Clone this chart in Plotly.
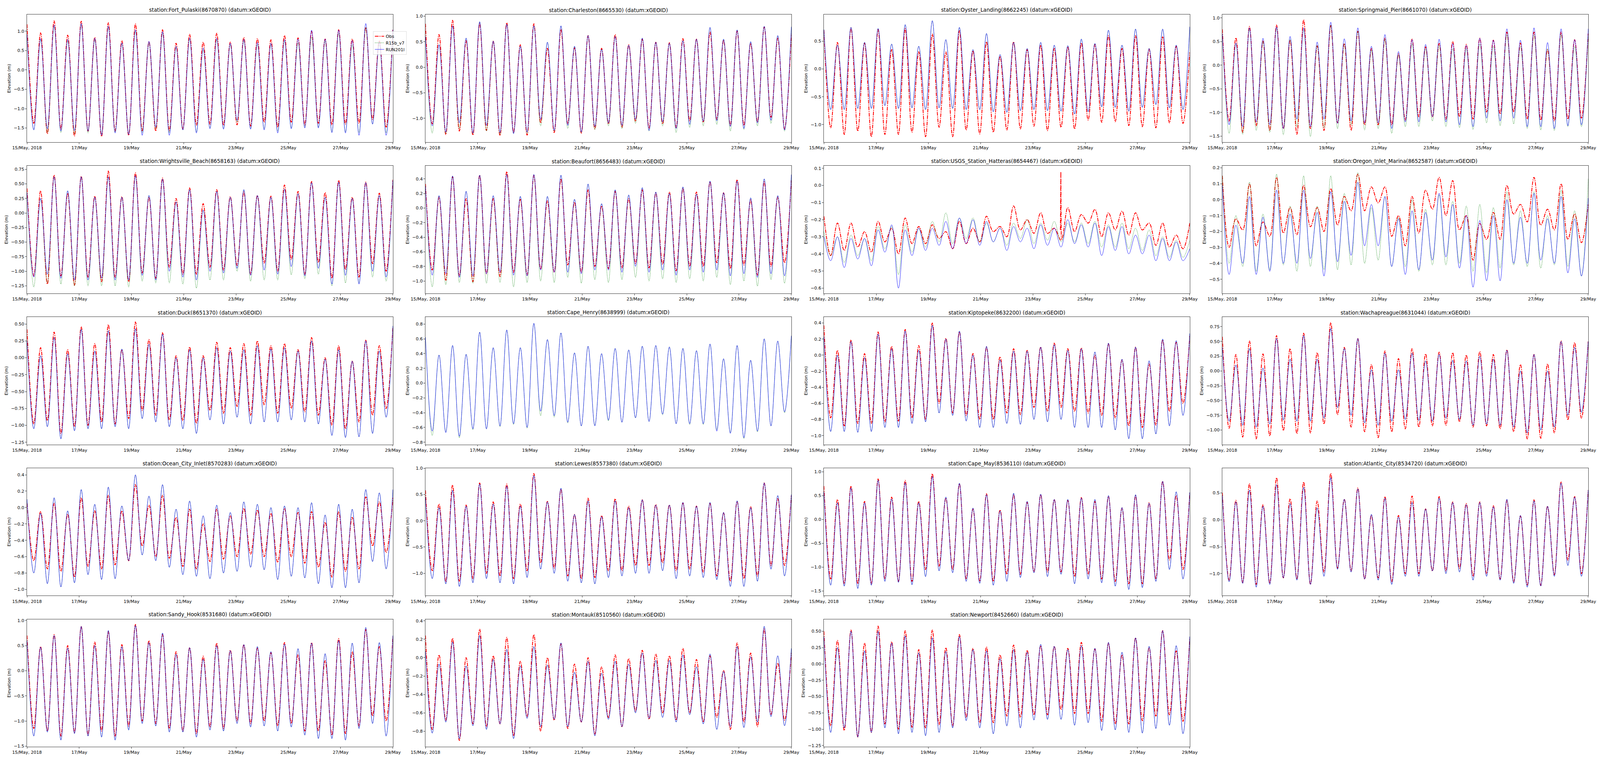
import pandas as pd
import plotly.graph_objects as go
from plotly.subplots import make_subplots

# time window and tick labels
START = "2018-05-15"
END = "2018-05-29"
N_EXTREMA = 55  # alternating high / low waters, first and last are highs

TICK_DATES = ["2018-05-15", "2018-05-17", "2018-05-19", "2018-05-21",
              "2018-05-23", "2018-05-25", "2018-05-27", "2018-05-29"]
TICK_LABELS = ["15/May, 2018", "17/May", "19/May", "21/May",
               "23/May", "25/May", "27/May", "29/May"]

# ---- high / low water values (m) ----
FORT_PULASKI_OBS_HI = [1.18, 0.96, 1.27, 0.90, 1.26, 0.84, 1.22, 0.76, 1.19, 0.73, 1.04, 0.69, 0.92, 0.72,
                       0.95, 0.72, 0.84, 0.81, 0.78, 0.89, 0.83, 1.00, 0.80, 1.04, 0.80, 1.10, 0.76, 1.04]
FORT_PULASKI_OBS_LO = [-1.38, -1.65, -1.53, -1.71, -1.58, -1.72, -1.58, -1.69, -1.57, -1.58, -1.57, -1.53, -1.43, -1.40,
                       -1.43, -1.42, -1.45, -1.35, -1.48, -1.35, -1.42, -1.38, -1.42, -1.40, -1.38, -1.28, -1.48]
FORT_PULASKI_R15_HI = [0.90, 0.78, 1.12, 0.75, 1.17, 0.78, 1.10, 0.68, 1.00, 0.70, 0.95, 0.58, 0.80, 0.52,
                       0.78, 0.65, 0.75, 0.66, 0.66, 0.75, 0.70, 0.85, 0.75, 0.95, 0.65, 1.10, 0.65, 1.00]
FORT_PULASKI_R15_LO = [-1.55, -1.62, -1.62, -1.65, -1.63, -1.66, -1.60, -1.65, -1.62, -1.52, -1.62, -1.55, -1.60, -1.50,
                       -1.52, -1.35, -1.52, -1.52, -1.58, -1.50, -1.48, -1.48, -1.60, -1.60, -1.62, -1.40, -1.62]
FORT_PULASKI_RUN_HI = [0.92, 0.81, 1.16, 0.79, 1.20, 0.82, 1.13, 0.70, 1.04, 0.74, 0.99, 0.61, 0.83, 0.57,
                       0.82, 0.69, 0.79, 0.71, 0.69, 0.79, 0.80, 1.03, 0.80, 1.03, 0.76, 1.20, 0.72, 1.04]
FORT_PULASKI_RUN_LO = [-1.55, -1.52, -1.58, -1.57, -1.58, -1.69, -1.63, -1.67, -1.69, -1.48, -1.69, -1.55, -1.63, -1.52,
                       -1.53, -1.31, -1.53, -1.55, -1.63, -1.52, -1.50, -1.50, -1.62, -1.63, -1.69, -1.40, -1.69]

CHARLESTON_OBS_HI = [0.85, 0.64, 0.92, 0.52, 0.86, 0.51, 0.87, 0.44, 0.85, 0.37, 0.74, 0.38, 0.62, 0.37,
                     0.64, 0.44, 0.55, 0.49, 0.48, 0.56, 0.55, 0.69, 0.53, 0.71, 0.47, 0.79, 0.57, 0.65]
CHARLESTON_OBS_LO = [-1.11, -1.32, -1.25, -1.33, -1.24, -1.34, -1.28, -1.33, -1.09, -1.28, -1.11, -1.29, -1.21, -1.11,
                     -1.18, -1.06, -1.20, -1.11, -1.18, -1.05, -1.07, -1.02, -1.14, -1.14, -1.07, -0.98, -1.21]
CHARLESTON_RUN_HI = [0.60, 0.44, 0.81, 0.57, 0.89, 0.51, 0.84, 0.41, 0.81, 0.49, 0.81, 0.41, 0.62, 0.35,
                     0.60, 0.43, 0.57, 0.49, 0.47, 0.52, 0.55, 0.78, 0.55, 0.73, 0.50, 0.80, 0.62, 0.79]
CHARLESTON_RUN_LO = [-1.15, -1.27, -1.09, -1.29, -1.14, -1.28, -1.30, -1.27, -1.02, -1.24, -1.14, -1.27, -1.16, -1.09,
                     -1.14, -1.02, -1.24, -1.07, -1.20, -1.12, -1.06, -1.05, -1.16, -1.20, -1.09, -1.04, -1.23]
CHARLESTON_R15_LO = [-1.29, -1.30, -1.20, -1.30, -1.25, -1.32, -1.30, -1.30, -1.15, -1.25, -1.20, -1.28, -1.22, -1.15,
                     -1.20, -1.10, -1.25, -1.15, -1.28, -1.18, -1.15, -1.12, -1.25, -1.22, -1.15, -1.10, -1.25]

OYSTER_OBS_HI = [0.70, 0.48, 0.74, 0.47, 0.71, 0.35, 0.73, 0.31, 0.63, 0.31, 0.69, 0.33, 0.49, 0.23,
                 0.49, 0.35, 0.43, 0.37, 0.40, 0.47, 0.44, 0.60, 0.37, 0.60, 0.36, 0.58, 0.41, 0.30]
OYSTER_OBS_LO = [-1.06, -1.18, -1.12, -1.22, -1.18, -1.18, -1.14, -1.22, -1.05, -1.22, -1.10, -1.17, -1.14, -1.10,
                 -1.08, -1.03, -1.11, -1.05, -1.08, -0.92, -0.96, -0.95, -1.02, -1.04, -1.06, -0.97, -0.98]
OYSTER_RUN_HI = [0.71, 0.43, 0.75, 0.48, 0.73, 0.45, 0.80, 0.41, 0.87, 0.53, 0.75, 0.35, 0.64, 0.26,
                 0.48, 0.37, 0.48, 0.43, 0.42, 0.54, 0.46, 0.70, 0.43, 0.72, 0.37, 0.72, 0.43, 0.76]
OYSTER_RUN_LO = [-0.73, -0.73, -0.71, -0.71, -0.66, -0.71, -0.70, -0.73, -0.70, -0.71, -0.73, -0.73, -0.77, -0.78,
                 -0.75, -0.73, -0.75, -0.76, -0.81, -0.77, -0.68, -0.69, -0.76, -0.69, -0.64, -0.70, -0.73]

SPRINGMAID_OBS_HI = [0.76, 0.58, 0.82, 0.51, 0.85, 0.53, 0.96, 0.41, 0.84, 0.46, 0.72, 0.35, 0.57, 0.24,
                     0.55, 0.39, 0.46, 0.50, 0.44, 0.57, 0.53, 0.70, 0.47, 0.70, 0.33, 0.70, 0.54, 0.67]
SPRINGMAID_OBS_LO = [-1.18, -1.42, -1.28, -1.38, -1.34, -1.46, -1.34, -1.38, -1.22, -1.38, -1.26, -1.26, -1.26, -1.16,
                     -1.09, -1.09, -1.14, -1.09, -1.14, -0.99, -1.03, -0.99, -1.14, -1.16, -1.18, -1.14, -1.12]
SPRINGMAID_R15_HI = [0.65, 0.45, 0.76, 0.50, 0.78, 0.55, 0.75, 0.42, 0.85, 0.45, 0.72, 0.32, 0.55, 0.22,
                     0.45, 0.35, 0.42, 0.35, 0.35, 0.45, 0.40, 0.65, 0.40, 0.65, 0.35, 0.65, 0.40, 0.62]
SPRINGMAID_R15_LO = [-1.44, -1.46, -1.38, -1.42, -1.47, -1.30, -1.51, -1.32, -1.34, -1.26, -1.37, -1.34, -1.44, -1.30,
                     -1.30, -1.18, -1.30, -1.32, -1.36, -1.22, -1.28, -1.24, -1.34, -1.37, -1.38, -1.30, -1.30]
SPRINGMAID_RUN_HI = [0.67, 0.47, 0.79, 0.57, 0.81, 0.61, 0.79, 0.49, 0.91, 0.56, 0.79, 0.40, 0.65, 0.29,
                     0.54, 0.44, 0.55, 0.46, 0.42, 0.57, 0.53, 0.77, 0.53, 0.79, 0.48, 0.77, 0.54, 0.77]
SPRINGMAID_RUN_LO = [-1.26, -1.30, -1.20, -1.26, -1.34, -1.14, -1.30, -1.14, -1.23, -1.18, -1.22, -1.22, -1.34, -1.20,
                     -1.20, -1.09, -1.20, -1.26, -1.30, -1.12, -1.18, -1.12, -1.30, -1.30, -1.34, -1.28, -1.26]

WRIGHTSVILLE_OBS_HI = [0.42, 0.38, 0.65, 0.34, 0.63, 0.29, 0.72, 0.28, 0.69, 0.27, 0.60, 0.25, 0.43, 0.16,
                       0.40, 0.28, 0.36, 0.30, 0.29, 0.48, 0.37, 0.54, 0.35, 0.56, 0.27, 0.53, 0.34, 0.57]
WRIGHTSVILLE_OBS_LO = [-1.08, -1.22, -1.08, -1.24, -1.10, -1.18, -1.10, -1.18, -1.03, -1.12, -0.93, -1.05, -1.05, -0.93,
                       -0.98, -0.90, -1.05, -0.86, -1.00, -0.80, -1.05, -0.85, -1.12, -0.97, -1.10, -0.87, -1.00]
WRIGHTSVILLE_RUN_HI = [0.35, 0.25, 0.62, 0.38, 0.62, 0.27, 0.62, 0.27, 0.64, 0.30, 0.58, 0.19, 0.40, 0.05,
                       0.37, 0.27, 0.40, 0.30, 0.27, 0.41, 0.33, 0.52, 0.27, 0.53, 0.25, 0.52, 0.30, 0.56]
WRIGHTSVILLE_RUN_LO = [-1.10, -1.05, -1.12, -1.15, -1.15, -1.12, -1.15, -1.15, -1.07, -1.15, -1.00, -1.10, -1.15, -1.00,
                       -1.03, -0.95, -1.07, -0.98, -1.05, -0.92, -1.08, -0.95, -1.22, -1.07, -1.22, -1.00, -1.10]
WRIGHTSVILLE_R15_LO = [-1.27, -1.20, -1.22, -1.25, -1.25, -1.25, -1.25, -1.27, -1.17, -1.20, -1.20, -1.22, -1.29, -1.15,
                       -1.15, -1.00, -1.17, -1.15, -1.15, -1.06, -1.13, -1.05, -1.25, -1.20, -1.20, -1.10, -1.17]

BEAUFORT_OBS_HI = [0.33, 0.15, 0.43, 0.13, 0.45, 0.13, 0.50, 0.12, 0.45, 0.10, 0.40, 0.08, 0.25, 0.03,
                   0.23, 0.13, 0.25, 0.21, 0.22, 0.27, 0.22, 0.36, 0.21, 0.39, 0.11, 0.36, 0.15, 0.38]
BEAUFORT_OBS_LO = [-0.85, -0.99, -0.93, -1.01, -0.90, -0.94, -0.88, -0.92, -0.84, -0.88, -0.78, -0.88, -0.80, -0.83,
                   -0.82, -0.76, -0.82, -0.77, -0.86, -0.80, -0.80, -0.75, -0.83, -0.78, -0.92, -0.80, -0.75]
BEAUFORT_RUN_HI = [0.30, 0.17, 0.44, 0.23, 0.45, 0.17, 0.46, 0.16, 0.46, 0.16, 0.45, 0.12, 0.33, 0.06,
                   0.25, 0.18, 0.28, 0.22, 0.20, 0.29, 0.19, 0.37, 0.21, 0.37, 0.14, 0.40, 0.17, 0.46]
BEAUFORT_RUN_LO = [-0.92, -0.90, -0.95, -0.93, -0.90, -0.88, -0.92, -0.93, -0.85, -0.88, -0.88, -0.90, -0.85, -0.85,
                   -0.88, -0.80, -0.88, -0.85, -0.92, -0.85, -0.88, -0.85, -0.93, -0.90, -0.95, -0.90, -0.93]
BEAUFORT_R15_LO = [-1.08, -1.05, -1.02, -1.03, -1.03, -1.02, -1.08, -1.02, -1.00, -1.02, -0.95, -1.03, -0.98, -1.02,
                   -0.98, -0.95, -1.00, -0.97, -1.02, -0.97, -1.00, -0.95, -1.05, -1.00, -1.07, -0.98, -1.03]

HATTERAS_OBS_HI = [-0.18, -0.22, -0.22, -0.27, -0.21, -0.25, -0.19, -0.24, -0.23, -0.27, -0.21, -0.25, -0.18, -0.24,
                   -0.12, -0.20, -0.16, -0.25, -0.13, -0.17, -0.14, -0.16, -0.15, -0.16, -0.22, -0.22, -0.29, -0.22]
HATTERAS_OBS_LO = [-0.41, -0.38, -0.36, -0.39, -0.33, -0.40, -0.34, -0.34, -0.31, -0.37, -0.34, -0.33, -0.27, -0.30,
                   -0.26, -0.28, -0.28, -0.32, -0.27, -0.22, -0.30, -0.26, -0.29, -0.26, -0.35, -0.36, -0.37]
HATTERAS_SPIKE_HOURS = [217.2, 217.6, 218.0]
HATTERAS_SPIKE_OBS = [-0.26, 0.08, -0.31]
HATTERAS_R15_HI = [-0.27, -0.30, -0.29, -0.31, -0.24, -0.24, -0.23, -0.25, -0.21, -0.16, -0.19, -0.19, -0.22, -0.25,
                   -0.22, -0.20, -0.22, -0.21, -0.22, -0.22, -0.21, -0.23, -0.22, -0.25, -0.26, -0.30, -0.32, -0.32]
HATTERAS_R15_LO = [-0.41, -0.45, -0.41, -0.44, -0.37, -0.52, -0.39, -0.36, -0.33, -0.34, -0.31, -0.33, -0.33, -0.35,
                   -0.31, -0.34, -0.32, -0.33, -0.33, -0.34, -0.36, -0.36, -0.37, -0.38, -0.41, -0.42, -0.42]
HATTERAS_RUN_HI = [-0.30, -0.30, -0.31, -0.31, -0.26, -0.23, -0.26, -0.25, -0.25, -0.21, -0.19, -0.20, -0.21, -0.25,
                   -0.24, -0.25, -0.23, -0.25, -0.20, -0.23, -0.22, -0.24, -0.24, -0.29, -0.29, -0.31, -0.33, -0.37]
HATTERAS_RUN_LO = [-0.44, -0.48, -0.43, -0.47, -0.39, -0.60, -0.41, -0.38, -0.35, -0.37, -0.34, -0.35, -0.33, -0.38,
                   -0.33, -0.37, -0.35, -0.36, -0.34, -0.36, -0.41, -0.38, -0.40, -0.40, -0.44, -0.44, -0.44]

OREGON_OBS_HI = [0.15, -0.12, 0.10, -0.14, 0.14, -0.05, 0.09, -0.05, 0.07, 0.02, 0.16, 0.08, 0.08, -0.10,
                 0.02, 0.06, 0.14, 0.12, -0.10, -0.15, -0.08, 0.09, -0.03, 0.14, -0.06, 0.10, -0.09, -0.03]
OREGON_OBS_LO = [-0.30, -0.19, -0.29, -0.23, -0.21, -0.22, -0.17, -0.20, -0.16, -0.07, -0.07, -0.02, -0.23, -0.29,
                 -0.21, -0.06, -0.10, -0.19, -0.38, -0.25, -0.25, -0.09, -0.14, -0.16, -0.19, -0.25, -0.27]
OREGON_R15_HI = [0.15, -0.10, 0.11, -0.09, 0.16, -0.04, 0.15, -0.04, 0.15, 0.04, 0.17, -0.05, 0.02, -0.11,
                 0.00, -0.06, 0.03, -0.01, -0.04, -0.03, -0.05, 0.05, -0.07, 0.05, -0.10, 0.06, -0.07, 0.13]
OREGON_R15_LO = [-0.40, -0.42, -0.45, -0.44, -0.41, -0.45, -0.42, -0.44, -0.44, -0.41, -0.40, -0.38, -0.42, -0.42,
                 -0.45, -0.41, -0.41, -0.40, -0.45, -0.46, -0.43, -0.41, -0.42, -0.43, -0.41, -0.42, -0.48]
OREGON_RUN_HI = [0.09, -0.16, 0.02, -0.11, 0.06, -0.09, 0.06, -0.08, 0.05, -0.01, 0.11, -0.03, 0.02, -0.12,
                 -0.07, -0.08, 0.04, -0.03, -0.10, -0.13, -0.10, 0.00, -0.11, 0.04, -0.12, 0.02, -0.12, 0.01]
OREGON_RUN_LO = [-0.47, -0.40, -0.47, -0.45, -0.40, -0.40, -0.37, -0.48, -0.39, -0.35, -0.29, -0.29, -0.42, -0.47,
                 -0.44, -0.38, -0.36, -0.43, -0.55, -0.51, -0.51, -0.40, -0.40, -0.38, -0.40, -0.46, -0.48]

DUCK_OBS_HI = [0.42, 0.15, 0.38, 0.12, 0.46, 0.21, 0.49, 0.12, 0.53, 0.27, 0.37, 0.03, 0.16, 0.03,
               0.23, 0.15, 0.21, 0.25, 0.18, 0.21, 0.12, 0.30, 0.00, 0.18, -0.05, 0.26, 0.18, 0.45]
DUCK_OBS_LO = [-0.98, -0.93, -1.12, -1.02, -1.00, -0.95, -0.98, -0.90, -0.78, -0.85, -0.92, -0.93, -0.97, -0.78,
               -0.82, -0.72, -0.85, -0.70, -0.82, -0.75, -0.80, -0.85, -1.00, -1.05, -0.95, -0.85, -0.75]
DUCK_RUN_HI = [0.25, 0.03, 0.30, 0.06, 0.42, 0.10, 0.40, 0.13, 0.43, 0.20, 0.35, 0.00, 0.12, 0.00,
               0.15, 0.10, 0.12, 0.18, 0.13, 0.15, 0.10, 0.25, -0.02, 0.12, -0.05, 0.25, 0.10, 0.47]
DUCK_RUN_LO = [-1.05, -1.02, -1.20, -1.08, -1.05, -1.05, -1.02, -1.05, -0.90, -0.95, -1.02, -1.05, -1.12, -0.92,
               -0.98, -0.88, -0.98, -0.95, -0.95, -0.92, -0.95, -0.98, -1.15, -1.18, -1.17, -1.12, -0.88]

CAPE_HENRY_RUN_HI = [0.62, 0.38, 0.51, 0.39, 0.69, 0.48, 0.72, 0.48, 0.81, 0.59, 0.68, 0.41, 0.50, 0.40,
                     0.47, 0.45, 0.50, 0.51, 0.49, 0.47, 0.44, 0.53, 0.33, 0.51, 0.31, 0.60, 0.57, 0.64]
CAPE_HENRY_RUN_LO = [-0.65, -0.67, -0.72, -0.62, -0.62, -0.58, -0.55, -0.60, -0.38, -0.44, -0.53, -0.58, -0.58, -0.50,
                     -0.53, -0.47, -0.52, -0.42, -0.55, -0.55, -0.55, -0.65, -0.68, -0.74, -0.65, -0.58, -0.39]
CAPE_HENRY_R15_LO = [-0.71, -0.66, -0.74, -0.63, -0.62, -0.59, -0.56, -0.61, -0.44, -0.46, -0.54, -0.58, -0.57, -0.51,
                     -0.53, -0.47, -0.52, -0.43, -0.55, -0.56, -0.56, -0.63, -0.67, -0.75, -0.66, -0.58, -0.40]

KIPTOPEKE_OBS_HI = [0.37, 0.06, 0.19, 0.02, 0.29, 0.11, 0.32, 0.12, 0.40, 0.21, 0.29, 0.02, 0.10, -0.02,
                    0.08, 0.06, 0.10, 0.15, 0.08, 0.09, 0.00, 0.14, -0.06, 0.10, -0.11, 0.19, 0.16, 0.24]
KIPTOPEKE_OBS_LO = [-0.78, -0.88, -0.85, -0.85, -0.83, -0.82, -0.78, -0.80, -0.60, -0.72, -0.75, -0.80, -0.80, -0.72,
                    -0.74, -0.65, -0.70, -0.65, -0.70, -0.72, -0.75, -0.78, -0.88, -0.90, -0.87, -0.70, -0.60]
KIPTOPEKE_RUN_HI = [0.23, 0.00, 0.17, -0.03, 0.26, 0.08, 0.30, 0.06, 0.37, 0.20, 0.30, 0.00, 0.11, -0.06,
                    0.05, 0.05, 0.10, 0.13, 0.06, 0.08, 0.04, 0.15, -0.05, 0.10, -0.07, 0.20, 0.18, 0.27]
KIPTOPEKE_RUN_LO = [-0.95, -0.95, -0.96, -0.95, -0.90, -0.90, -0.85, -0.83, -0.72, -0.75, -0.82, -0.90, -0.90, -0.85,
                    -0.86, -0.80, -0.83, -0.80, -0.90, -0.90, -0.90, -0.93, -1.04, -1.04, -0.98, -0.88, -0.75]

WACHAPREAGUE_OBS_HI = [0.58, 0.28, 0.51, 0.29, 0.60, 0.38, 0.64, 0.31, 0.82, 0.40, 0.55, 0.11, 0.34, 0.21,
                       0.38, 0.29, 0.32, 0.31, 0.27, 0.33, 0.28, 0.36, 0.11, 0.28, 0.12, 0.51, 0.48, 0.50]
WACHAPREAGUE_OBS_LO = [-0.97, -1.12, -1.15, -1.10, -1.01, -1.06, -1.05, -0.90, -0.74, -0.95, -1.03, -1.13, -1.03, -0.98,
                       -0.95, -0.93, -0.92, -0.86, -0.95, -0.93, -0.98, -1.03, -1.15, -1.14, -1.05, -0.83, -0.80]
WACHAPREAGUE_RUN_HI = [0.40, 0.10, 0.38, 0.05, 0.55, 0.20, 0.60, 0.20, 0.72, 0.38, 0.55, 0.02, 0.30, 0.02,
                       0.30, 0.17, 0.28, 0.18, 0.17, 0.25, 0.20, 0.35, 0.00, 0.28, 0.00, 0.50, 0.40, 0.50]
WACHAPREAGUE_RUN_LO = [-0.85, -0.92, -0.95, -0.90, -0.83, -0.85, -0.85, -0.80, -0.62, -0.75, -0.88, -0.92, -0.85, -0.82,
                       -0.84, -0.85, -0.80, -0.82, -0.92, -0.90, -0.92, -0.95, -1.05, -1.00, -0.95, -0.75, -0.70]

OCEAN_CITY_OBS_HI = [0.05, -0.05, 0.05, -0.08, 0.12, -0.04, 0.15, -0.04, 0.28, 0.03, 0.15, -0.12, -0.02, -0.20,
                     -0.02, -0.10, -0.01, -0.03, -0.07, -0.01, -0.06, -0.05, -0.18, -0.05, -0.12, 0.13, 0.07, 0.12]
OCEAN_CITY_OBS_LO = [-0.65, -0.75, -0.78, -0.85, -0.72, -0.75, -0.70, -0.65, -0.47, -0.60, -0.62, -0.72, -0.75, -0.66,
                     -0.63, -0.60, -0.57, -0.60, -0.67, -0.60, -0.68, -0.73, -0.85, -0.78, -0.75, -0.47, -0.55]
OCEAN_CITY_RUN_HI = [0.10, -0.07, 0.12, -0.04, 0.22, 0.04, 0.25, 0.02, 0.40, 0.14, 0.28, -0.02, 0.08, -0.10,
                     0.03, -0.06, 0.07, 0.04, 0.00, 0.02, 0.00, 0.06, -0.09, 0.04, -0.02, 0.22, 0.18, 0.22]
OCEAN_CITY_RUN_LO = [-0.80, -0.93, -0.97, -0.92, -0.82, -0.88, -0.87, -0.65, -0.58, -0.65, -0.73, -0.82, -0.84, -0.87,
                     -0.80, -0.78, -0.73, -0.76, -0.88, -0.84, -0.86, -0.93, -0.98, -0.98, -0.92, -0.66, -0.75]

LEWES_OBS_HI = [0.58, 0.32, 0.68, 0.30, 0.72, 0.36, 0.70, 0.32, 0.90, 0.37, 0.60, 0.12, 0.43, 0.10,
                0.42, 0.28, 0.40, 0.31, 0.30, 0.34, 0.28, 0.33, 0.15, 0.37, 0.27, 0.72, 0.42, 0.48]
LEWES_OBS_LO = [-0.95, -1.16, -1.15, -1.10, -1.00, -1.05, -1.10, -0.95, -0.80, -0.90, -1.05, -1.10, -1.08, -0.95,
                -0.95, -0.85, -0.85, -0.80, -0.95, -0.92, -0.98, -1.05, -1.15, -1.10, -1.05, -0.85, -0.85]
LEWES_RUN_HI = [0.45, 0.25, 0.58, 0.28, 0.70, 0.32, 0.66, 0.28, 0.86, 0.36, 0.62, 0.12, 0.38, 0.08,
                0.38, 0.25, 0.40, 0.30, 0.30, 0.35, 0.28, 0.35, 0.16, 0.38, 0.25, 0.72, 0.48, 0.50]
LEWES_RUN_LO = [-1.10, -1.20, -1.25, -1.18, -1.10, -1.18, -1.20, -1.08, -0.92, -1.00, -1.15, -1.18, -1.20, -1.08,
                -1.05, -1.00, -1.00, -0.95, -1.10, -1.05, -1.08, -1.12, -1.25, -1.25, -1.15, -0.92, -1.05]

CAPE_MAY_OBS_HI = [0.70, 0.42, 0.70, 0.38, 0.85, 0.47, 0.82, 0.38, 0.96, 0.45, 0.75, 0.22, 0.54, 0.20,
                   0.52, 0.36, 0.52, 0.42, 0.40, 0.46, 0.38, 0.49, 0.24, 0.50, 0.35, 0.80, 0.50, 0.55]
CAPE_MAY_OBS_LO = [-1.25, -1.35, -1.35, -1.35, -1.25, -1.30, -1.30, -1.05, -0.98, -1.05, -1.25, -1.30, -1.30, -1.15,
                   -1.15, -1.10, -1.10, -1.10, -1.20, -1.15, -1.25, -1.30, -1.35, -1.35, -1.25, -0.85, -1.05]
CAPE_MAY_RUN_HI = [0.58, 0.35, 0.66, 0.35, 0.82, 0.43, 0.77, 0.35, 0.90, 0.47, 0.76, 0.24, 0.52, 0.18,
                   0.55, 0.38, 0.53, 0.42, 0.42, 0.45, 0.42, 0.50, 0.25, 0.52, 0.34, 0.80, 0.58, 0.57]
CAPE_MAY_RUN_LO = [-1.38, -1.40, -1.45, -1.38, -1.30, -1.32, -1.37, -1.20, -1.08, -1.12, -1.30, -1.34, -1.38, -1.30,
                   -1.22, -1.12, -1.20, -1.15, -1.35, -1.25, -1.33, -1.40, -1.47, -1.43, -1.30, -1.05, -1.25]

ATLANTIC_CITY_OBS_HI = [0.50, 0.36, 0.67, 0.28, 0.78, 0.39, 0.70, 0.35, 0.86, 0.38, 0.59, 0.08, 0.43, 0.08,
                        0.44, 0.20, 0.43, 0.33, 0.30, 0.33, 0.26, 0.36, 0.07, 0.37, 0.25, 0.70, 0.43, 0.55]
ATLANTIC_CITY_OBS_LO = [-1.12, -1.17, -1.20, -1.18, -1.08, -1.10, -1.20, -0.97, -0.90, -0.95, -1.10, -1.08, -1.15, -1.00,
                        -1.00, -0.95, -0.95, -0.90, -1.05, -1.00, -1.10, -1.15, -1.22, -1.22, -1.02, -0.75, -1.00]
ATLANTIC_CITY_RUN_HI = [0.45, 0.33, 0.55, 0.25, 0.65, 0.30, 0.60, 0.22, 0.78, 0.38, 0.57, 0.10, 0.40, 0.05,
                        0.32, 0.20, 0.40, 0.32, 0.28, 0.32, 0.24, 0.38, 0.08, 0.35, 0.25, 0.68, 0.42, 0.55]
ATLANTIC_CITY_RUN_LO = [-1.15, -1.18, -1.25, -1.20, -1.08, -1.12, -1.20, -1.05, -0.92, -0.97, -1.10, -1.12, -1.20, -1.05,
                        -1.05, -0.95, -1.00, -0.97, -1.12, -1.05, -1.12, -1.18, -1.25, -1.23, -1.05, -0.85, -1.05]

SANDY_HOOK_OBS_HI = [0.70, 0.48, 0.72, 0.50, 0.88, 0.57, 0.78, 0.52, 0.92, 0.60, 0.72, 0.38, 0.46, 0.29,
                     0.55, 0.41, 0.52, 0.45, 0.36, 0.56, 0.32, 0.56, 0.20, 0.64, 0.38, 0.82, 0.48, 0.68]
SANDY_HOOK_OBS_LO = [-1.15, -1.20, -1.30, -1.23, -1.28, -1.20, -1.30, -1.10, -1.00, -1.05, -1.15, -1.20, -1.25, -1.12,
                     -1.15, -1.00, -1.05, -1.00, -1.10, -1.05, -1.20, -1.20, -1.28, -1.25, -1.10, -0.90, -1.00]
SANDY_HOOK_RUN_HI = [0.60, 0.47, 0.70, 0.45, 0.88, 0.50, 0.80, 0.48, 0.90, 0.56, 0.75, 0.33, 0.46, 0.23,
                     0.50, 0.40, 0.52, 0.48, 0.38, 0.53, 0.44, 0.55, 0.34, 0.60, 0.55, 0.86, 0.56, 0.70]
SANDY_HOOK_RUN_LO = [-1.30, -1.22, -1.38, -1.25, -1.30, -1.32, -1.38, -1.18, -1.05, -1.10, -1.22, -1.22, -1.32, -1.18,
                     -1.20, -1.05, -1.12, -1.10, -1.20, -1.12, -1.28, -1.35, -1.35, -1.38, -1.15, -1.05, -1.30]

MONTAUK_OBS_HI = [0.24, 0.03, 0.21, 0.00, 0.31, 0.02, 0.22, -0.04, 0.25, 0.00, 0.15, -0.07, 0.00, -0.10,
                  0.03, -0.01, 0.08, 0.04, 0.02, 0.10, -0.02, 0.02, -0.14, 0.16, 0.05, 0.31, -0.06, 0.05]
MONTAUK_OBS_LO = [-0.78, -0.68, -0.90, -0.72, -0.75, -0.72, -0.85, -0.64, -0.80, -0.68, -0.77, -0.70, -0.83, -0.65,
                  -0.75, -0.58, -0.67, -0.60, -0.68, -0.60, -0.70, -0.65, -0.78, -0.70, -0.75, -0.62, -0.68]
MONTAUK_RUN_HI = [0.07, -0.07, 0.17, -0.09, 0.24, -0.02, 0.09, -0.09, 0.12, -0.08, 0.16, -0.16, -0.04, -0.17,
                  -0.04, -0.07, 0.05, -0.03, -0.03, 0.03, -0.10, 0.04, -0.15, 0.12, 0.01, 0.34, 0.02, 0.10]
MONTAUK_RUN_LO = [-0.82, -0.70, -0.88, -0.74, -0.78, -0.72, -0.88, -0.66, -0.75, -0.67, -0.75, -0.70, -0.85, -0.67,
                  -0.75, -0.60, -0.66, -0.65, -0.70, -0.62, -0.72, -0.78, -0.75, -0.76, -0.70, -0.64, -0.74]

NEWPORT_OBS_HI = [0.50, 0.36, 0.52, 0.32, 0.58, 0.34, 0.51, 0.22, 0.52, 0.25, 0.45, 0.24, 0.26, 0.14,
                  0.29, 0.21, 0.28, 0.27, 0.24, 0.33, 0.23, 0.32, 0.14, 0.40, 0.25, 0.51, 0.20, 0.40]
NEWPORT_OBS_LO = [-0.95, -1.02, -1.12, -1.05, -0.92, -1.00, -0.97, -0.98, -0.93, -0.95, -0.82, -0.90, -0.90, -0.80,
                  -0.82, -0.78, -0.78, -0.70, -0.76, -0.76, -0.88, -0.92, -0.92, -0.87, -0.80, -0.78, -0.88]
NEWPORT_RUN_HI = [0.42, 0.25, 0.50, 0.20, 0.50, 0.32, 0.43, 0.17, 0.40, 0.19, 0.42, 0.22, 0.20, 0.08,
                  0.22, 0.18, 0.30, 0.27, 0.22, 0.28, 0.24, 0.33, 0.18, 0.40, 0.27, 0.51, 0.28, 0.42]
NEWPORT_RUN_LO = [-1.05, -0.98, -1.12, -1.05, -0.98, -1.07, -1.05, -1.10, -1.05, -0.98, -0.87, -0.98, -1.07, -0.95,
                  -0.98, -0.86, -0.85, -0.85, -0.94, -0.90, -1.02, -1.01, -1.05, -1.06, -0.99, -0.94, -1.07]

# title, obs (hi, lo), R15b_v7 (hi, lo), RUN201l (hi, lo), y range, tick step, tick format
STATIONS = [
    ("station:Fort_Pulaski(8670870) (datum:xGEOID)", FORT_PULASKI_OBS_HI, FORT_PULASKI_OBS_LO,
     FORT_PULASKI_R15_HI, FORT_PULASKI_R15_LO, FORT_PULASKI_RUN_HI, FORT_PULASKI_RUN_LO, [-1.87, 1.43], 0.5, ".1f"),
    ("station:Charleston(8665530) (datum:xGEOID)", CHARLESTON_OBS_HI, CHARLESTON_OBS_LO,
     CHARLESTON_RUN_HI, CHARLESTON_R15_LO, CHARLESTON_RUN_HI, CHARLESTON_RUN_LO, [-1.47, 1.03], 0.5, ".1f"),
    ("station:Oyster_Landing(8662245) (datum:xGEOID)", OYSTER_OBS_HI, OYSTER_OBS_LO,
     OYSTER_RUN_HI, OYSTER_RUN_LO, OYSTER_RUN_HI, OYSTER_RUN_LO, [-1.32, 0.98], 0.5, ".1f"),
    ("station:Springmaid_Pier(8661070) (datum:xGEOID)", SPRINGMAID_OBS_HI, SPRINGMAID_OBS_LO,
     SPRINGMAID_R15_HI, SPRINGMAID_R15_LO, SPRINGMAID_RUN_HI, SPRINGMAID_RUN_LO, [-1.63, 1.07], 0.5, ".1f"),
    ("station:Wrightsville_Beach(8658163) (datum:xGEOID)", WRIGHTSVILLE_OBS_HI, WRIGHTSVILLE_OBS_LO,
     WRIGHTSVILLE_RUN_HI, WRIGHTSVILLE_R15_LO, WRIGHTSVILLE_RUN_HI, WRIGHTSVILLE_RUN_LO, [-1.38, 0.81], 0.25, ".2f"),
    ("station:Beaufort(8656483) (datum:xGEOID)", BEAUFORT_OBS_HI, BEAUFORT_OBS_LO,
     BEAUFORT_RUN_HI, BEAUFORT_R15_LO, BEAUFORT_RUN_HI, BEAUFORT_RUN_LO, [-1.17, 0.58], 0.2, ".1f"),
    ("station:USGS_Station_Hatteras(8654467) (datum:xGEOID)", HATTERAS_OBS_HI, HATTERAS_OBS_LO,
     HATTERAS_R15_HI, HATTERAS_R15_LO, HATTERAS_RUN_HI, HATTERAS_RUN_LO, [-0.631, 0.115], 0.1, ".1f"),
    ("station:Oregon_Inlet_Marina(8652587) (datum:xGEOID)", OREGON_OBS_HI, OREGON_OBS_LO,
     OREGON_R15_HI, OREGON_R15_LO, OREGON_RUN_HI, OREGON_RUN_LO, [-0.589, 0.213], 0.1, ".1f"),
    ("station:Duck(8651370) (datum:xGEOID)", DUCK_OBS_HI, DUCK_OBS_LO,
     DUCK_RUN_HI, DUCK_RUN_LO, DUCK_RUN_HI, DUCK_RUN_LO, [-1.284, 0.605], 0.25, ".2f"),
    ("station:Cape_Henry(8638999) (datum:xGEOID)", None, None,
     CAPE_HENRY_RUN_HI, CAPE_HENRY_R15_LO, CAPE_HENRY_RUN_HI, CAPE_HENRY_RUN_LO, [-0.832, 0.897], 0.2, ".1f"),
    ("station:Kiptopeke(8632200) (datum:xGEOID)", KIPTOPEKE_OBS_HI, KIPTOPEKE_OBS_LO,
     KIPTOPEKE_RUN_HI, KIPTOPEKE_RUN_LO, KIPTOPEKE_RUN_HI, KIPTOPEKE_RUN_LO, [-1.112, 0.476], 0.2, ".1f"),
    ("station:Wachapreague(8631044) (datum:xGEOID)", WACHAPREAGUE_OBS_HI, WACHAPREAGUE_OBS_LO,
     WACHAPREAGUE_RUN_HI, WACHAPREAGUE_RUN_LO, WACHAPREAGUE_RUN_HI, WACHAPREAGUE_RUN_LO, [-1.246, 0.916], 0.25, ".2f"),
    ("station:Ocean_City_Inlet(8570283) (datum:xGEOID)", OCEAN_CITY_OBS_HI, OCEAN_CITY_OBS_LO,
     OCEAN_CITY_RUN_HI, OCEAN_CITY_RUN_LO, OCEAN_CITY_RUN_HI, OCEAN_CITY_RUN_LO, [-1.077, 0.483], 0.2, ".1f"),
    ("station:Lewes(8557380) (datum:xGEOID)", LEWES_OBS_HI, LEWES_OBS_LO,
     LEWES_RUN_HI, LEWES_RUN_LO, LEWES_RUN_HI, LEWES_RUN_LO, [-1.425, 1.004], 0.5, ".1f"),
    ("station:Cape_May(8536110) (datum:xGEOID)", CAPE_MAY_OBS_HI, CAPE_MAY_OBS_LO,
     CAPE_MAY_RUN_HI, CAPE_MAY_RUN_LO, CAPE_MAY_RUN_HI, CAPE_MAY_RUN_LO, [-1.60, 1.079], 0.5, ".1f"),
    ("station:Atlantic_City(8534720) (datum:xGEOID)", ATLANTIC_CITY_OBS_HI, ATLANTIC_CITY_OBS_LO,
     ATLANTIC_CITY_RUN_HI, ATLANTIC_CITY_RUN_LO, ATLANTIC_CITY_RUN_HI, ATLANTIC_CITY_RUN_LO, [-1.409, 0.959], 0.5, ".1f"),
    ("station:Sandy_Hook(8531680) (datum:xGEOID)", SANDY_HOOK_OBS_HI, SANDY_HOOK_OBS_LO,
     SANDY_HOOK_RUN_HI, SANDY_HOOK_RUN_LO, SANDY_HOOK_RUN_HI, SANDY_HOOK_RUN_LO, [-1.514, 1.026], 0.5, ".1f"),
    ("station:Montauk(8510560) (datum:xGEOID)", MONTAUK_OBS_HI, MONTAUK_OBS_LO,
     MONTAUK_RUN_HI, MONTAUK_RUN_LO, MONTAUK_RUN_HI, MONTAUK_RUN_LO, [-0.969, 0.418], 0.2, ".1f"),
    ("station:Newport(8452660) (datum:xGEOID)", NEWPORT_OBS_HI, NEWPORT_OBS_LO,
     NEWPORT_RUN_HI, NEWPORT_RUN_LO, NEWPORT_RUN_HI, NEWPORT_RUN_LO, [-1.27, 0.686], 0.25, ".2f"),
]

SERIES_NAMES = ["Obs", "R15b_v7", "RUN201l"]
FONT = "DejaVu Sans"
FIG_W, FIG_H = 5150, 1950
MARGIN_T, MARGIN_B = 37, 39


def interleave(hi, lo):
    """high, low, high, low, ... -> one series"""
    out = []
    for i, h in enumerate(hi):
        out.append(h)
        if i < len(lo):
            out.append(lo[i])
    return out


times = pd.date_range(START, END, periods=N_EXTREMA)

fig = make_subplots(
    rows=5, cols=4,
    subplot_titles=[s[0] for s in STATIONS] + [""],
    horizontal_spacing=105 / 5029,
    vertical_spacing=60 / 1874,
)

OBS_DASH = "12px,3px,3px,3px"
styles = [
    dict(color="red", width=2.6, dash=OBS_DASH),
    dict(color="green", width=1.0, dash="3px,2px"),
    dict(color="blue", width=1.1),
]

for idx, st in enumerate(STATIONS):
    title, obs_hi, obs_lo, r15_hi, r15_lo, run_hi, run_lo, yrange, dtick, tfmt = st
    row, col = idx // 4 + 1, idx % 4 + 1
    pairs = [(obs_hi, obs_lo), (r15_hi, r15_lo), (run_hi, run_lo)]
    for k, (hi, lo) in enumerate(pairs):
        if hi is None:
            continue
        y = interleave(hi, lo)
        fig.add_trace(
            go.Scatter(
                x=times[:len(y)], y=y, mode="lines", name=SERIES_NAMES[k],
                line=dict(shape="spline", smoothing=1.0, **styles[k]),
                showlegend=(idx == 0), legendgroup=SERIES_NAMES[k],
            ),
            row=row, col=col,
        )
    if title.startswith("station:USGS_Station_Hatteras"):
        spike_x = pd.Timestamp(START) + pd.to_timedelta(HATTERAS_SPIKE_HOURS, unit="h")
        fig.add_trace(
            go.Scatter(x=spike_x, y=HATTERAS_SPIKE_OBS, mode="lines", showlegend=False,
                       line=dict(color="red", width=2.6, dash=OBS_DASH)),
            row=row, col=col,
        )
    fig.update_yaxes(range=yrange, dtick=dtick, tick0=0, tickformat=tfmt,
                     title_text="Elevation (m)", row=row, col=col)

fig.update_xaxes(
    type="date", range=[START, END], tickvals=TICK_DATES, ticktext=TICK_LABELS,
    showgrid=False, zeroline=False, showline=True, mirror=True, linecolor="black",
    linewidth=1.1, ticks="outside", ticklen=5, tickwidth=1.1, tickcolor="black",
    tickfont=dict(size=13.9, color="black", family=FONT),
)
fig.update_yaxes(
    showgrid=False, zeroline=False, showline=True, mirror=True, linecolor="black",
    linewidth=1.1, ticks="outside", ticklen=5, tickwidth=1.1, tickcolor="black",
    tickfont=dict(size=13.9, color="black", family=FONT),
    title_font=dict(size=13.9, color="black", family=FONT), title_standoff=6,
)
# last grid cell is unused
fig.update_xaxes(visible=False, row=5, col=4)
fig.update_yaxes(visible=False, row=5, col=4)

fig.update_annotations(font=dict(size=16.7, color="black", family=FONT), yshift=2)

fig.update_layout(
    width=FIG_W, height=FIG_H,
    margin=dict(l=87, r=34, t=MARGIN_T, b=MARGIN_B),
    paper_bgcolor="white", plot_bgcolor="white",
    font=dict(family=FONT, color="black"),
    legend=dict(
        x=1252 / FIG_W, y=1 - 44 / FIG_H, xref="paper", yref="paper",
        xanchor="right", yanchor="top",
        bgcolor="rgba(255,255,255,0.8)", bordercolor="#d0d0d0", borderwidth=1,
        font=dict(size=13.9, family=FONT, color="black"),
        itemwidth=30, tracegroupgap=0,
    ),
)

# Fit the figure to the actual browser viewport: scale to its width, then
# stretch the figure height so the page is filled without distorting text.
FIT_JS = """
var gd = document.getElementById('{plot_id}');
var W = window.innerWidth, H = window.innerHeight;
var s = W / %(w)d;
var hf = H / s;
var k = hf / %(h)d;
document.documentElement.style.overflow = 'hidden';
document.body.style.margin = '0';
document.body.style.overflow = 'hidden';
var wrap = gd.parentElement;
wrap.style.width = W + 'px';
wrap.style.height = H + 'px';
wrap.style.overflow = 'hidden';
if (Math.abs(s - 1) > 0.001) {
    gd.style.transformOrigin = '0 0';
    gd.style.transform = 'scale(' + s + ')';
}
if (Math.abs(k - 1) > 0.002) {
    gd.style.height = hf + 'px';
    Plotly.relayout(gd, {'height': hf, 'margin.t': %(t)d * k, 'margin.b': %(b)d * k});
}
""" % dict(w=FIG_W, h=FIG_H, t=MARGIN_T, b=MARGIN_B)

fig.write_html("out.html", post_script=FIT_JS, config={"displayModeBar": False})
